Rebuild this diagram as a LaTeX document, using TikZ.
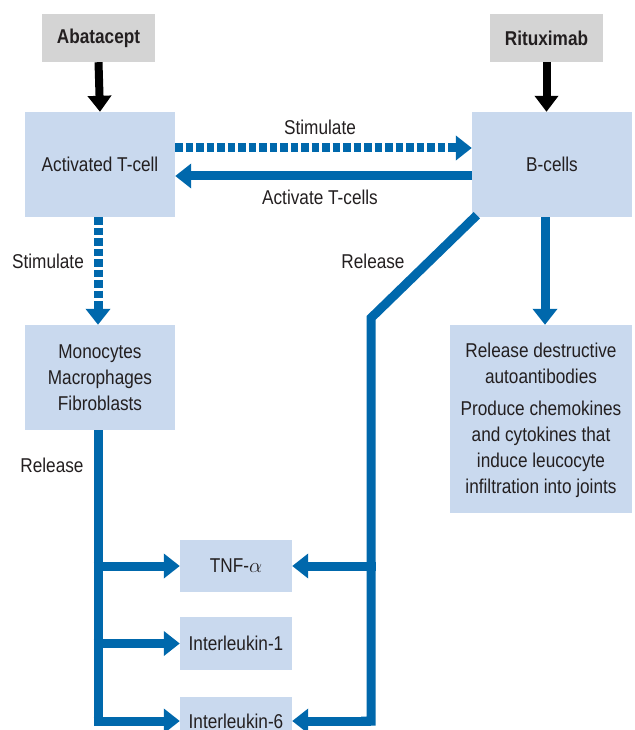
\documentclass[tikz,border=0pt]{standalone}
\usepackage{fontspec}
\setmainfont[FakeStretch=0.86]{Liberation Sans}
\usetikzlibrary{arrows.meta}
\definecolor{flowblue}{RGB}{0,104,172}
\definecolor{boxblue}{RGB}{201,217,238}
\definecolor{boxgray}{RGB}{212,212,212}
\definecolor{ink}{RGB}{35,31,32}
\tikzset{
  every node/.style={font=\fontsize{20}{26}\selectfont, text=ink},
  drugbox/.style={fill=boxgray, minimum width=113pt, minimum height=48pt, inner sep=0pt, font=\fontsize{20}{26}\selectfont\bfseries},
  cellbox/.style={fill=boxblue, inner sep=0pt, align=center},
  lbl/.style={inner sep=0pt},
  flow/.style={draw=flowblue, line width=9pt, line join=miter},
  flowtip/.style={flow, -{Triangle[length=16pt, width=24pt]}},
  dashflow/.style={flowtip, dash pattern=on 7.5pt off 3pt},
  drugtip/.style={draw=black, line width=8pt, -{Triangle[length=16pt, width=23pt]}},
}
\begin{document}
\begin{tikzpicture}[x=1pt, y=-1pt]
  \useasboundingbox (0,0) rectangle (634,730);
  \clip (0,0) rectangle (634,730);

  % drugs
  \node[drugbox] (abat) at (98.5,38) {Abatacept};
  \node[drugbox] (ritu) at (546.5,38) {Rituximab};

  % cells
  \node[cellbox, minimum width=150pt, minimum height=105pt] (tcell) at (100,164.5) {Activated T-cell};
  \node[cellbox, minimum width=160pt, minimum height=105pt] (bcell) at (552,164.5) {B-cells};
  \node[cellbox, minimum width=150pt, minimum height=105pt] (mono) at (100,377.5)
    {Monocytes\\Macrophages\\Fibroblasts};
  \node[cellbox, minimum width=182pt, minimum height=188pt] (effect) at (541,419)
    {\raisebox{0pt}[18pt]{}Release destructive\\autoantibodies\\[6pt]Produce chemokines\\and cytokines that\\induce leucocyte\\infiltration into joints};

  % cytokines
  \node[cellbox, minimum width=112pt, minimum height=52pt] (tnf) at (236,566) {TNF-$\alpha$};
  \node[cellbox, minimum width=112pt, minimum height=53pt] (il1) at (236,643.5) {Interleukin-1};
  \node[cellbox, minimum width=112pt, minimum height=48pt] (il6) at (236,721) {Interleukin-6};

  % connector labels
  \node[lbl] (lstimr) at (320,127) {Stimulate};
  \node[lbl] (lact) at (320,197) {Activate T-cells};
  \node[lbl] (lstimd) at (48,261) {Stimulate};
  \node[lbl] (lrelb) at (373,261) {Release};
  \node[lbl] (lrelm) at (52,465) {Release};

  % drug actions
  \draw[drugtip] (abat.south) -- (tcell.north);
  \draw[drugtip] (ritu.south) -- ([xshift=-5.5pt]bcell.north);

  % T-cell / B-cell interplay
  \draw[dashflow] ([yshift=16.5pt]tcell.east) -- ([yshift=16.5pt]bcell.west);
  \draw[flowtip] ([yshift=-11.5pt]bcell.west) -- ([yshift=-11.5pt]tcell.east);
  \draw[dashflow] ([xshift=-2pt]tcell.south) -- ([xshift=-2pt]mono.north);
  \draw[flowtip] ([xshift=-7pt]bcell.south) -- ([xshift=-7pt]bcell.south |- effect.north);

  % B-cell release line
  \coordinate (rbend) at (371,318);
  \draw[flow] ([xshift=5pt, yshift=2pt]bcell.south west) -- (rbend) -- (rbend |- il6.east) -- ++(-10,0);
  \draw[flowtip] (rbend |- il6.east) -- (il6.east);
  \draw[flowtip] ([xshift=4.5pt]rbend |- tnf.east) -- (tnf.east);

  % monocyte release line
  \coordinate (mdrop) at (98,430);
  \draw[flow] (mdrop) -- (mdrop |- il6.west);
  \draw[flowtip] ([xshift=-4.5pt]mdrop |- tnf.west) -- (tnf.west);
  \draw[flowtip] ([xshift=-4.5pt]mdrop |- il1.west) -- (il1.west);
  \draw[flowtip] ([xshift=-4.5pt]mdrop |- il6.west) -- (il6.west);
\end{tikzpicture}
\end{document}
